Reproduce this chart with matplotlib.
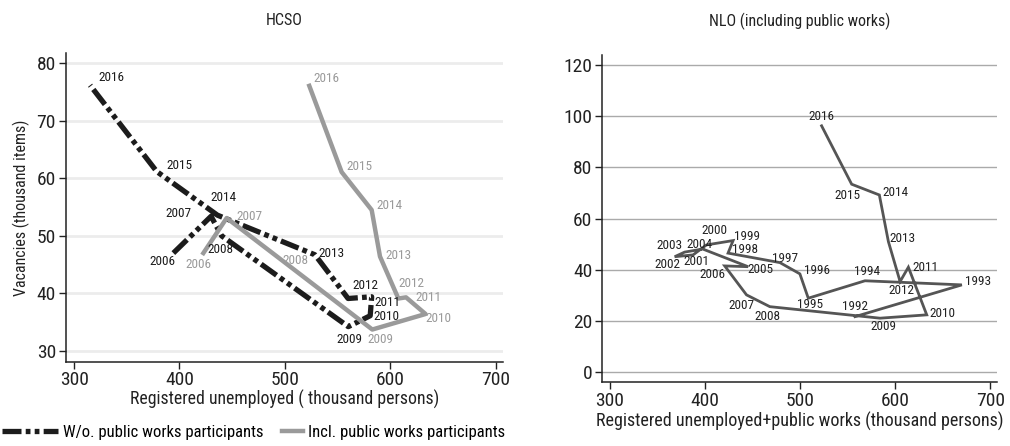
import matplotlib.pyplot as plt
from matplotlib import font_manager

# pick a narrow face if we have one
names = {f.name for f in font_manager.fontManager.ttflist}
FONT = "DejaVu Sans"
for cand in ["Roboto Condensed", "Liberation Sans Narrow", "Open Sans Condensed",
             "Liberation Sans", "Roboto"]:
    if cand in names:
        FONT = cand
        break
plt.rcParams["font.family"] = [FONT, "DejaVu Sans"]

# HCSO, 2006-2016
hcso_years = [2006, 2007, 2008, 2009, 2010, 2011, 2012, 2013, 2014, 2015, 2016]
wo_unemp = [394.2, 430.0, 440.0, 560.2, 581.0, 582.4, 560.0, 528.6, 436.0, 378.4, 315.2]
wo_vac = [47.0, 53.4, 50.0, 34.2, 36.1, 39.4, 39.1, 46.7, 53.6, 61.2, 76.2]
incl_unemp = [422.7, 444.8, 494.0, 583.0, 633.5, 615.0, 607.7, 590.3, 582.4, 553.9, 523.2]
incl_vac = [47.0, 53.1, 46.2, 33.7, 36.4, 39.3, 39.1, 46.4, 54.5, 61.1, 76.1]

# NLO, 1992-2016
nlo_years = list(range(1992, 2017))
nlo_unemp = [557.9, 670.2, 568.4, 508.8, 500.0, 479.0, 424.5, 429.8, 401.8, 387.7,
             368.4, 378.9, 397.9, 445.6, 421.0, 443.9, 468.4, 584.2, 633.3, 614.0,
             605.3, 593.0, 583.5, 554.4, 522.8]
nlo_vac = [21.7, 34.1, 35.7, 28.9, 38.4, 42.8, 46.5, 51.4, 49.7, 45.8,
           45.1, 46.9, 48.1, 41.2, 41.5, 30.2, 25.6, 21.1, 22.4, 41.0,
           35.4, 51.0, 69.2, 73.4, 96.2]

# label offsets in pixels (dx right, dy down)
wo_off = {2006: (-11, 8), 2007: (-33, -3), 2008: (-1, 14), 2009: (1, 13), 2010: (16, 1),
          2011: (16, 6), 2012: (17, -13), 2013: (17, -1), 2014: (6, -18), 2015: (23, -6),
          2016: (21, -8)}
incl_off = {2006: (-5, 11), 2007: (23, -2), 2008: (17, 3), 2009: (8, 10), 2010: (13, 4),
            2011: (22, 0), 2012: (13, -15), 2013: (18, -1), 2014: (18, -4), 2015: (18, -6),
            2016: (17, -7)}
nlo_off = {1992: (0, -10), 1993: (16, -3), 1994: (2, -9), 1995: (2, 6), 1996: (17, -3),
           1997: (5, -4), 1998: (17, -4), 1999: (14, -4), 2000: (8, -14), 2001: (3, 7),
           2002: (-7, 8), 2003: (-15, -7), 2004: (-3, -5), 2005: (12, 3), 2006: (-12, 9),
           2007: (-5, 11), 2008: (-2, 10), 2009: (3, 8), 2010: (16, -1), 2011: (17, 0),
           2012: (1, 9), 2013: (14, -3), 2014: (16, -2), 2015: (-4, 11), 2016: (0, -9)}

BLACK = "#1c1c1c"
GRAY = "#9a9a9a"
DARK = "#555555"
TXT = "#222222"
PX = 0.72  # points per pixel at dpi 100

fig = plt.figure(figsize=(10.1, 4.46), dpi=100)
ax1 = fig.add_axes([0.065, 0.189, 0.433, 0.692])
ax2 = fig.add_axes([0.596, 0.143, 0.391, 0.734])


def style(ax, grid_color, grid_lw):
    for s in ["top", "right"]:
        ax.spines[s].set_visible(False)
    for s in ["left", "bottom"]:
        ax.spines[s].set_linewidth(1.1)
        ax.spines[s].set_color(TXT)
    ax.tick_params(length=5, width=1.0, labelsize=14, colors=TXT, pad=2)
    ax.yaxis.grid(True, color=grid_color, linewidth=grid_lw)
    ax.set_axisbelow(True)


def label(ax, xs, ys, years, offs, color, size):
    for x, y, yr in zip(xs, ys, years):
        dx, dy = offs[yr]
        ax.annotate(str(yr), (x, y), xytext=(dx * PX, -dy * PX), textcoords="offset points",
                    ha="center", va="center", fontsize=size, color=color)


# left panel
style(ax1, "#ececec", 2.0)
wo_line, = ax1.plot(wo_unemp, wo_vac, color=BLACK, linewidth=3.8, solid_capstyle="butt",
                    dash_capstyle="butt", dashes=(3.6, 0.8, 0.9, 0.8, 0.9, 0.8))
incl_line, = ax1.plot(incl_unemp, incl_vac, color=GRAY, linewidth=3.2)
label(ax1, wo_unemp, wo_vac, hcso_years, wo_off, BLACK, 9.5)
label(ax1, incl_unemp, incl_vac, hcso_years, incl_off, GRAY, 9.5)
ax1.set_xlim(292, 707)
ax1.set_ylim(28.1, 81.8)
ax1.set_xticks([300, 400, 500, 600, 700])
ax1.set_yticks([30, 40, 50, 60, 70, 80])
ax1.set_title("HCSO", fontsize=11.5, pad=20, color=TXT)
ax1.set_xlabel("Registered unemployed ( thousand persons)", fontsize=12.8, labelpad=0,
               color=TXT)
ax1.set_ylabel("Vacancies (thousand items)", fontsize=11.5, labelpad=5, color=TXT)

# right panel
style(ax2, "#aaaaaa", 1.0)
ax2.plot(nlo_unemp, nlo_vac, color=DARK, linewidth=2.0, solid_joinstyle="miter")
label(ax2, nlo_unemp, nlo_vac, nlo_years, nlo_off, TXT, 9.5)
ax2.set_xlim(292, 707)
ax2.set_ylim(-3.9, 123.9)
ax2.set_xticks([300, 400, 500, 600, 700])
ax2.set_yticks([0, 20, 40, 60, 80, 100, 120])
ax2.set_title("NLO (including public works)", fontsize=11.5, pad=21, color=TXT)
ax2.set_xlabel("Registered unemployed+public works (thousand persons)", fontsize=13,
               labelpad=1, color=TXT)

# two legends so each key can have its own length, as in the original
leg_y = 1 - 432 / 446
fig.legend([wo_line], ["W/o. public works participants"], loc="center left",
           bbox_to_anchor=(0.0, leg_y), frameon=False, fontsize=12,
           handlelength=3.4, handletextpad=0.3, borderaxespad=0, borderpad=0.1)
fig.legend([incl_line], ["Incl. public works participants"], loc="center left",
           bbox_to_anchor=(280 / 1010, leg_y), frameon=False, fontsize=12,
           handlelength=1.3, handletextpad=0.3, borderaxespad=0, borderpad=0.1)

fig.savefig("out.png", dpi=100)
